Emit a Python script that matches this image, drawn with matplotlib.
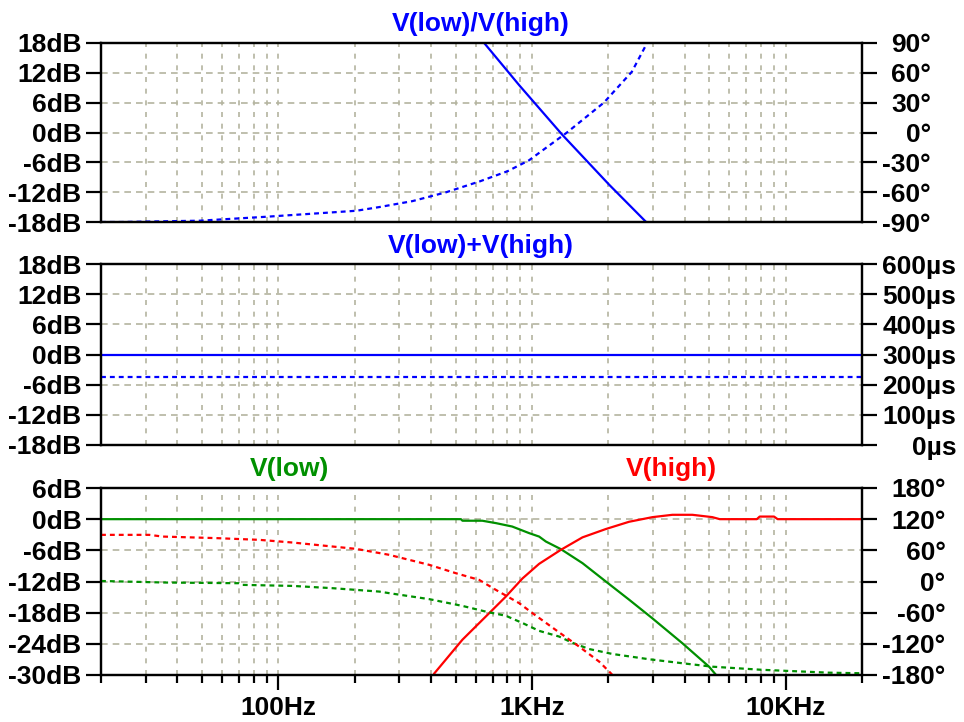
import matplotlib
matplotlib.use("Agg")
import matplotlib.pyplot as plt
from matplotlib.ticker import FixedLocator, FixedFormatter, NullFormatter

plt.rcParams['font.family'] = ['Liberation Sans', 'DejaVu Sans']
plt.rcParams['font.weight'] = 'bold'
plt.rcParams['font.size'] = 19

# --- data ------------------------------------------------------------------
# top pane: V(low)/V(high)
ratio_mag_f = [648, 891, 1319, 2015, 2793, 2900]
ratio_mag_db = [18, 9.5, -0.5, -10.5, -17.8, -18.6]
ratio_ph_f = [20, 24, 49, 90, 203, 250, 338, 460, 625, 800, 973, 1374, 1920, 2475, 2830, 2900]
ratio_ph_deg = [-90, -90, -88.7, -84.7, -78.7, -75, -69, -60, -49, -39, -28, 0, 30, 61, 89, 95]

# middle pane: V(low)+V(high)
sum_f = [20, 20000]
sum_mag_db = [0, 0]
sum_delay_us = [225, 225]

# bottom pane: V(low) and V(high)
low_mag_f = [20, 525, 532, 637, 721, 836, 975, 1067, 1135, 1300, 1582, 1955, 2415, 2985, 3920, 4990, 5383]
low_mag_db = [0, 0, -0.3, -0.3, -0.76, -1.42, -2.69, -3.35, -4.31, -5.77, -8.47, -12.0, -15.5, -19.1, -23.9, -28.4, -30.3]
low_ph_f = [20, 36, 70, 72, 114, 164, 250, 274, 394, 532, 658, 789, 918, 1067, 1280, 1444, 1680,
            2075, 2897, 3920, 5140, 8072, 14760, 20000]
low_ph_deg = [1, -2, -3.3, -6.5, -8.5, -12.9, -19.4, -22.5, -34, -47, -58, -66, -80, -95, -106, -118, -130,
              -139.5, -149.7, -157.4, -164, -170, -175.5, -176.7]

high_mag_f = [412, 532, 678, 789, 918, 1067, 1300, 1582, 1955, 2415, 2985, 3578, 4289, 5140, 5500,
              7700, 7900, 9000, 9300, 20000]
high_mag_db = [-29.7, -23.2, -18.1, -14.9, -11.4, -8.6, -5.9, -3.5, -1.9, -0.5, 0.39, 0.84, 0.84, 0.39, 0,
               0, 0.5, 0.5, 0, 0]
high_ph_f = [20, 31, 35, 57, 84, 114, 164, 202, 274, 291, 394, 501, 619, 721, 891, 1005, 1280, 1535,
             1841, 2046, 2120]
high_ph_deg = [89.8, 89.8, 86.5, 83.5, 80.2, 75, 67.3, 62.9, 51.3, 48, 32, 16, 3.1, -16.2, -41.8, -61, -98,
               -125.4, -154.3, -176.7, -185]

x_major = [100, 1000, 10000]
x_major_labels = ['100Hz', '1KHz', '10KHz']
x_minor = [m * d for d in (10, 100, 1000) for m in range(2, 10)] + [20000]

db_ticks_top = [-18, -12, -6, 0, 6, 12, 18]
deg_ticks_top = [-90, -60, -30, 0, 30, 60, 90]
us_ticks = [0, 100, 200, 300, 400, 500, 600]
db_ticks_bot = [-30, -24, -18, -12, -6, 0, 6]
deg_ticks_bot = [-180, -120, -60, 0, 60, 120, 180]

BLUE = '#0000ff'
GREEN = '#009000'
RED = '#ff0000'
GRID = '#b4b4a0'
DASH = (0, (2.2, 1.8))

fig = plt.figure(figsize=(9.64, 7.22), dpi=100)
W, H = 964.0, 722.0
left, right = 101, 862
panes = [(43, 222), (264, 445), (488, 675)]


def make_pane(top, bottom, yticks, ylabels, rticks, rlabels, show_x):
    ax = fig.add_axes([left / W, 1 - bottom / H, (right - left) / W, (bottom - top) / H])
    ax.set_xscale('log')
    ax.set_xlim(20, 20000)
    ax.set_ylim(yticks[0], yticks[-1])
    ax.xaxis.set_major_locator(FixedLocator(x_major))
    ax.xaxis.set_minor_locator(FixedLocator(x_minor))
    ax.xaxis.set_minor_formatter(NullFormatter())
    if show_x:
        ax.xaxis.set_major_formatter(FixedFormatter(x_major_labels))
    else:
        ax.xaxis.set_major_formatter(NullFormatter())
    ax.set_yticks(yticks)
    ax.set_yticklabels(ylabels)
    ax.grid(True, which='both', axis='x', color=GRID, lw=1.2, ls=(0, (3, 4)))
    ax.grid(True, which='major', axis='y', color=GRID, lw=1.2, ls=(0, (4, 3)))
    ax.tick_params(axis='y', direction='out', length=11, width=1.6, pad=3)
    ax.tick_params(axis='x', which='major', direction='out', length=11, width=1.6, pad=4,
                   bottom=show_x)
    ax.tick_params(axis='x', which='minor', direction='out', length=6, width=1.6, bottom=show_x)
    for s in ax.spines.values():
        s.set_linewidth(1.6)

    tw = ax.twinx()
    tw.set_ylim(rticks[0], rticks[-1])
    tw.set_yticks(rticks)
    tw.set_yticklabels(rlabels)
    tw.tick_params(axis='y', direction='out', length=11, width=1.6)
    for s in tw.spines.values():
        s.set_linewidth(1.6)
    return ax, tw


# top pane
ax1, tw1 = make_pane(*panes[0], db_ticks_top, ['%ddB' % v for v in db_ticks_top],
                     deg_ticks_top, ['%d°' % v for v in deg_ticks_top], False)
ax1.plot(ratio_mag_f, ratio_mag_db, color=BLUE, lw=1.6)
tw1.plot(ratio_ph_f, ratio_ph_deg, color=BLUE, lw=1.6, ls=DASH)

# middle pane
ax2, tw2 = make_pane(*panes[1], db_ticks_top, ['%ddB' % v for v in db_ticks_top],
                     us_ticks, ['%dµs' % v for v in us_ticks], False)
ax2.plot(sum_f, sum_mag_db, color=BLUE, lw=1.6)
tw2.plot(sum_f, sum_delay_us, color=BLUE, lw=1.6, ls=DASH)

# bottom pane
ax3, tw3 = make_pane(*panes[2], db_ticks_bot, ['%ddB' % v for v in db_ticks_bot],
                     deg_ticks_bot, ['%d°' % v for v in deg_ticks_bot], True)
ax3.plot(low_mag_f, low_mag_db, color=GREEN, lw=1.6)
ax3.plot(high_mag_f, high_mag_db, color=RED, lw=1.6)
tw3.plot(low_ph_f, low_ph_deg, color=GREEN, lw=1.6, ls=DASH)
tw3.plot(high_ph_f, high_ph_deg, color=RED, lw=1.6, ls=DASH)

# trace names above each pane
fig.text(481 / W, 1 - 24 / H, 'V(low)/V(high)', color=BLUE, ha='center', va='center')
fig.text(481 / W, 1 - 246 / H, 'V(low)+V(high)', color=BLUE, ha='center', va='center')
fig.text(290 / W, 1 - 469 / H, 'V(low)', color=GREEN, ha='center', va='center')
fig.text(671 / W, 1 - 469 / H, 'V(high)', color=RED, ha='center', va='center')

# right axis labels are right aligned in the original
fig.canvas.draw()
for tw in (tw1, tw2, tw3):
    w = max(t.get_window_extent().width for t in tw.get_yticklabels())
    tw.tick_params(axis='y', pad=(5 + w) * 72 / fig.dpi)
    for t in tw.yaxis.get_major_ticks():
        t.label2.set_horizontalalignment('right')

fig.savefig('out.png', dpi=100)
